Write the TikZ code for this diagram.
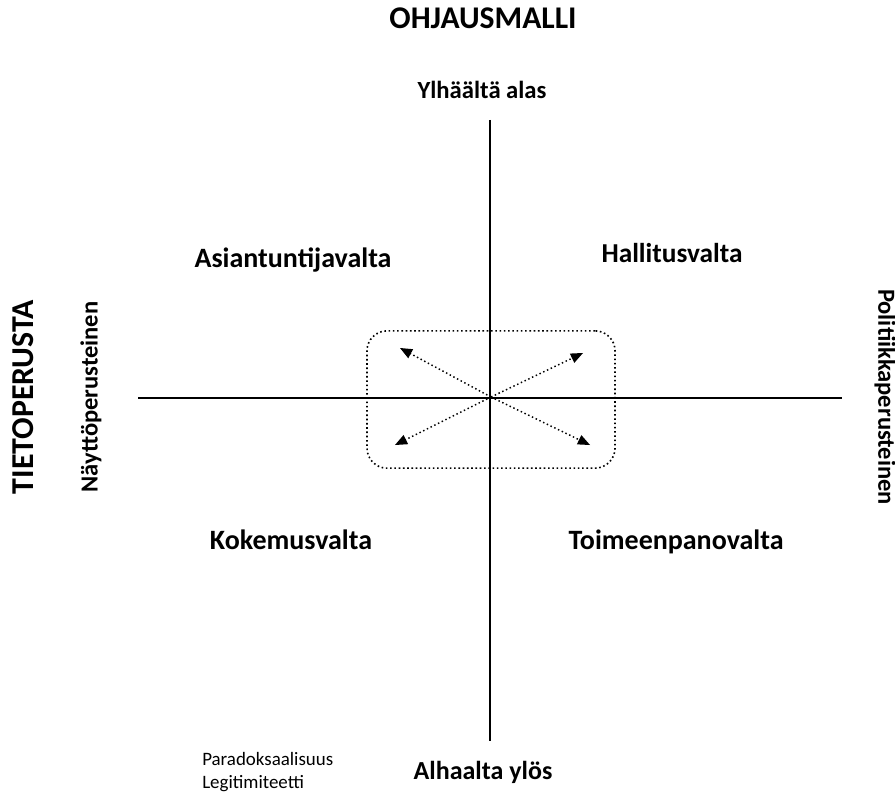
\documentclass[tikz,border=0pt]{standalone}
\usepackage{fontspec}
\setmainfont{Carlito}
\usetikzlibrary{arrows, positioning, calc}

\begin{document}
\begin{tikzpicture}[x=0.75pt,y=-0.75pt,>=triangle 45]
\useasboundingbox (0,0) rectangle (895,795);

% Axes
\coordinate (top) at (490,120);
\coordinate (bottom) at (490,741);
\coordinate (left) at (138,398);
\coordinate (right) at (842,398);
\coordinate (centre) at (491,397);
\draw[line width=2pt] (top) -- (bottom);
\draw[line width=2pt] (left) -- (right);

% Titles
\node[font=\bfseries\fontsize{23.7}{28}\selectfont] (ohjaus) at (483,18) {OHJAUSMALLI};
\node[font=\bfseries\fontsize{23.9}{28}\selectfont, rotate=90] (tieto) at (23,397) {TIETOPERUSTA};

% Axis ends
\node[font=\bfseries\fontsize{18.5}{22}\selectfont] (ylh) at (482,90) {Ylhäältä alas};
\node[font=\bfseries\fontsize{19.5}{23}\selectfont] (alh) at (483,772) {Alhaalta ylös};
\node[font=\bfseries\fontsize{18.4}{22}\selectfont, rotate=90] (nayt) at (91,397) {Näyttöperusteinen};
\node[font=\bfseries\fontsize{18.4}{22}\selectfont, rotate=-90] (polit) at (885,397) {Politiikkaperusteinen};

% Quadrants
\node[font=\bfseries\fontsize{21}{25}\selectfont] (asiant) at (293,260) {Asiantuntijavalta};
\node[font=\bfseries\fontsize{20.5}{24}\selectfont] (hallit) at (672,253) {Hallitusvalta};
\node[font=\bfseries\fontsize{21}{25}\selectfont] (kokem) at (291,540) {Kokemusvalta};
\node[font=\bfseries\fontsize{21}{25}\selectfont] (toim) at (676,542) {Toimeenpanovalta};

% Small text
\node[font=\fontsize{14.2}{17}\selectfont, align=left, anchor=west, inner sep=0pt] (parad) at (202,772) {Paradoksaalisuus\\Legitimiteetti};

% Dotted box and arrows
\node[draw, dotted, line width=1.2pt, rounded corners=15pt, minimum width=186pt, minimum height=103pt] (box) at (491,399.5) {};
\coordinate (nw) at (400,348);
\coordinate (ne) at (583,353);
\coordinate (sw) at (395,445);
\coordinate (se) at (590,445);
\draw[->, dotted, line width=1.1pt] (centre) -- (nw);
\draw[->, dotted, line width=1.1pt] (centre) -- (ne);
\draw[->, dotted, line width=1.1pt] (centre) -- (sw);
\draw[->, dotted, line width=1.1pt] (centre) -- (se);

\end{tikzpicture}
\end{document}
